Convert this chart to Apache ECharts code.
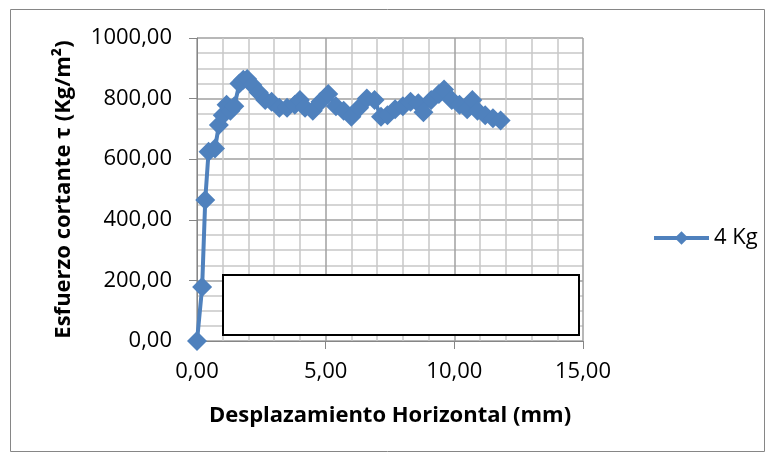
<!DOCTYPE html>
<html>
<head>
<meta charset="utf-8">
<script src="https://cdn.jsdelivr.net/npm/echarts@6/dist/echarts.min.js"></script>
<style>
  html, body { margin: 0; padding: 0; background: #ffffff; }
  #chart { width: 773px; height: 458px; }
</style>
</head>
<body>
<div id="chart"></div>
<script>
// Horizontal displacement (mm) and shear stress (Kg/m²) for the 4 Kg load
const desplazamiento = [0, 0.2, 0.32, 0.45, 0.7, 0.85, 1.0, 1.15, 1.3, 1.45, 1.65, 1.8, 1.95, 2.15, 2.4, 2.65, 2.9,
  3.2, 3.5, 3.8, 4.0, 4.2, 4.5, 4.8, 5.1, 5.4, 5.7, 6.0, 6.3, 6.6, 6.9, 7.15, 7.4, 7.7, 8.0, 8.3, 8.6, 8.8,
  9.1, 9.4, 9.6, 9.9, 10.2, 10.5, 10.7, 10.9, 11.2, 11.5, 11.8];
const esfuerzo = [0, 178, 465, 625, 635, 713, 745, 780, 760, 775, 850, 862, 865, 845, 820, 795, 790,
  770, 770, 780, 795, 770, 760, 790, 815, 775, 760, 740, 770, 800, 795, 740, 745, 765, 775, 790, 785, 755,
  795, 815, 830, 795, 780, 765, 795, 760, 745, 735, 728];
const serieNombre = '4 Kg';
const xTicks = [0, 5, 10, 15];
const yTicks = [0, 200, 400, 600, 800, 1000];

const fmt = v => v.toFixed(2).replace('.', ',');
const font = '"Open Sans", "Noto Sans", sans-serif';

const chart = echarts.init(document.getElementById('chart'), null, { renderer: 'canvas' });
chart.setOption({
  animation: false,
  backgroundColor: '#ffffff',
  grid: { left: 197, right: 190, top: 38, bottom: 117 },
  legend: {
    data: [serieNombre],
    left: 647, top: 222,
    itemWidth: 55, itemHeight: 17, itemGap: 6,
    lineStyle: { width: 4 },
    textStyle: { fontFamily: font, fontSize: 22, color: '#000' }
  },
  xAxis: {
    type: 'value', min: xTicks[0], max: xTicks[xTicks.length - 1], interval: 5,
    name: 'Desplazamiento Horizontal (mm)', nameLocation: 'middle', nameGap: 64,
    nameTextStyle: { fontFamily: font, fontSize: 22, fontWeight: 'bold', color: '#000' },
    axisLine: { show: true, onZero: false, lineStyle: { color: '#868686', width: 1 } },
    axisTick: { show: true, length: 8, lineStyle: { color: '#868686' } },
    axisLabel: { formatter: fmt, fontFamily: font, fontSize: 22, color: '#000', margin: 20 },
    splitLine: { show: true, lineStyle: { color: '#a0a0a0', width: 1.5 } },
    minorTick: { show: true, splitNumber: 5, length: 0 },
    minorSplitLine: { show: true, lineStyle: { color: '#c8c8c8', width: 1.5 } }
  },
  yAxis: {
    type: 'value', min: yTicks[0], max: yTicks[yTicks.length - 1], interval: 200,
    name: 'Esfuerzo cortante τ (Kg/m²)', nameLocation: 'middle', nameGap: 122, nameRotate: 90,
    nameTextStyle: { fontFamily: font, fontSize: 22, fontWeight: 'bold', color: '#000' },
    axisLine: { show: true, lineStyle: { color: '#868686', width: 1 } },
    axisTick: { show: true, length: 8, lineStyle: { color: '#868686' } },
    axisLabel: { formatter: fmt, fontFamily: font, fontSize: 22, color: '#000', margin: 25 },
    splitLine: { show: true, lineStyle: { color: '#a0a0a0', width: 1.5 } },
    minorTick: { show: true, splitNumber: 4, length: 0 },
    minorSplitLine: { show: true, lineStyle: { color: '#c8c8c8', width: 1.5 } }
  },
  series: [{
    name: serieNombre,
    type: 'line',
    data: desplazamiento.map((x, i) => [x, esfuerzo[i]]),
    symbol: 'diamond', symbolSize: 20,
    lineStyle: { color: '#4F81BD', width: 4 },
    itemStyle: { color: '#4F81BD' },
    z: 5
  }],
  graphic: [
    { type: 'rect', shape: { x: 10.5, y: 9.5, width: 754, height: 442 },
      style: { fill: 'none', stroke: '#868686', lineWidth: 1 }, z: -1 },
    { type: 'rect', shape: { x: 223, y: 275, width: 356, height: 60 },
      style: { fill: '#ffffff', stroke: '#000000', lineWidth: 2 }, z: 10 }
  ]
});
</script>
</body>
</html>
